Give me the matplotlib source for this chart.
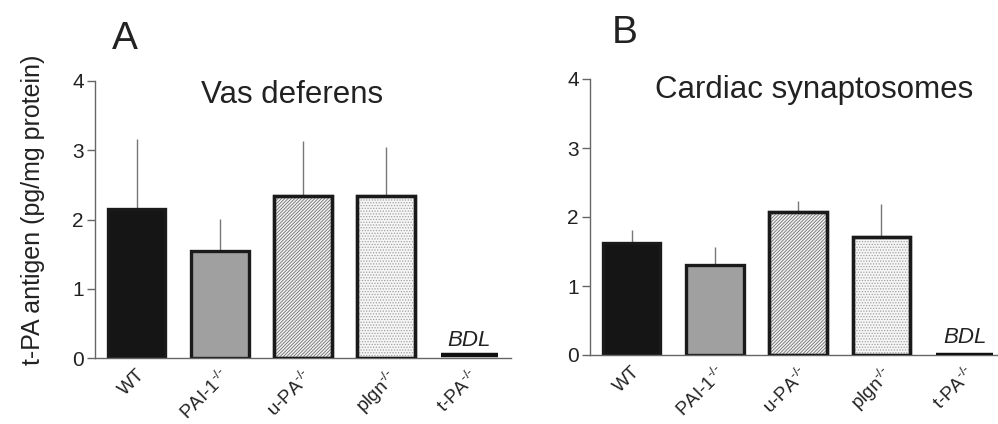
import matplotlib
matplotlib.use("Agg")
import matplotlib.pyplot as plt
import numpy as np

plt.rcParams['font.family'] = ['Liberation Sans', 'DejaVu Sans']
plt.rcParams['mathtext.fontset'] = 'custom'
plt.rcParams['mathtext.rm'] = 'Liberation Sans'
plt.rcParams['mathtext.it'] = 'Liberation Sans:italic'
plt.rcParams['mathtext.default'] = 'regular'
plt.rcParams['hatch.linewidth'] = 0.6

# ---- data ----
categories = ["WT", "PAI-1$^{\\text{-/-}}$", "u-PA$^{\\text{-/-}}$",
              "plgn$^{\\text{-/-}}$", "t-PA$^{\\text{-/-}}$"]
vas_means = [2.15, 1.55, 2.34, 2.34]
vas_upper = [3.16, 2.01, 3.13, 3.05]
vas_bdl = 0.04
card_means = [1.63, 1.30, 2.07, 1.71]
card_upper = [1.81, 1.57, 2.23, 2.19]
card_bdl = 0.0
yticks = [0, 1, 2, 3, 4]
panel_titles = ["Vas deferens", "Cardiac synaptosomes"]
panel_letters = ["A", "B"]
ylabel = "t-PA antigen (pg/mg protein)"

fills = ["#151515", "#a0a0a0", "#f2f2f2", "#f6f6f6"]
hatches = [None, None, "/" * 10, "......"]
hatch_cols = [None, None, "#707070", "#a0a0a0"]

fig = plt.figure(figsize=(9.98, 4.24), dpi=100)
axA = fig.add_axes([95/998, 1-358/424, 416/998, 277/424])
axB = fig.add_axes([590/998, 1-355/424, 408/998, 276/424])

def draw(ax, means, upper, bdl, xlim, title, title_xy, letter, letter_xy, bdl_y):
    x = np.arange(len(categories))
    w = 0.69
    for i, (m, u) in enumerate(zip(means, upper)):
        ax.vlines(x[i], m, u, color="#777777", lw=1.0, zorder=1)
        ax.bar(x[i], m, width=w, color=fills[i], edgecolor="#1a1a1a",
               linewidth=2.4, zorder=2)
        if hatches[i]:
            ax.bar(x[i], m, width=w, color="none", edgecolor=hatch_cols[i],
                   hatch=hatches[i], linewidth=0, zorder=2.5)
            ax.bar(x[i], m, width=w, color="none", edgecolor="#1a1a1a",
                   linewidth=2.4, zorder=3)
    ax.hlines(bdl, x[4]-w/2, x[4]+w/2, color="#111111", lw=3.2, zorder=3)
    ax.text(x[4], bdl_y, "BDL", style="italic", fontsize=16, ha="center",
            va="bottom", color="#222222")
    ax.set_xlim(*xlim)
    ax.set_ylim(0, 4)
    ax.set_yticks(yticks)
    ax.set_yticklabels([str(t) for t in yticks], fontsize=15, color="#222222")
    ax.set_xticks(x)
    ax.set_xticklabels(categories, rotation=45, ha="right", fontsize=13.5,
                       color="#222222", rotation_mode="anchor")
    ax.tick_params(axis="x", length=0, pad=6)
    ax.tick_params(axis="y", length=6, width=1, color="#666666", pad=2)
    for s in ["top", "right"]:
        ax.spines[s].set_visible(False)
    for s in ["left", "bottom"]:
        ax.spines[s].set_color("#666666")
        ax.spines[s].set_linewidth(1.0)
    ax.patch.set_alpha(0)
    fig.text(title_xy[0]/998, 1-title_xy[1]/424, title, fontsize=22.5,
             ha="center", va="center", color="#222222")
    fig.text(letter_xy[0]/998, 1-letter_xy[1]/424, letter, fontsize=28,
             ha="center", va="center", color="#222222")

draw(axA, vas_means, vas_upper, vas_bdl, (-0.5, 4.5), panel_titles[0],
     (292, 95), panel_letters[0], (125, 39), 0.1)
draw(axB, card_means, card_upper, card_bdl, (-0.5, 4.4), panel_titles[1],
     (814, 90), panel_letters[1], (625, 33), 0.1)

fig.text(33/998, 1-210/424, ylabel, rotation=90, fontsize=18,
         ha="center", va="center", color="#222222")

fig.savefig("out.png", dpi=100)
